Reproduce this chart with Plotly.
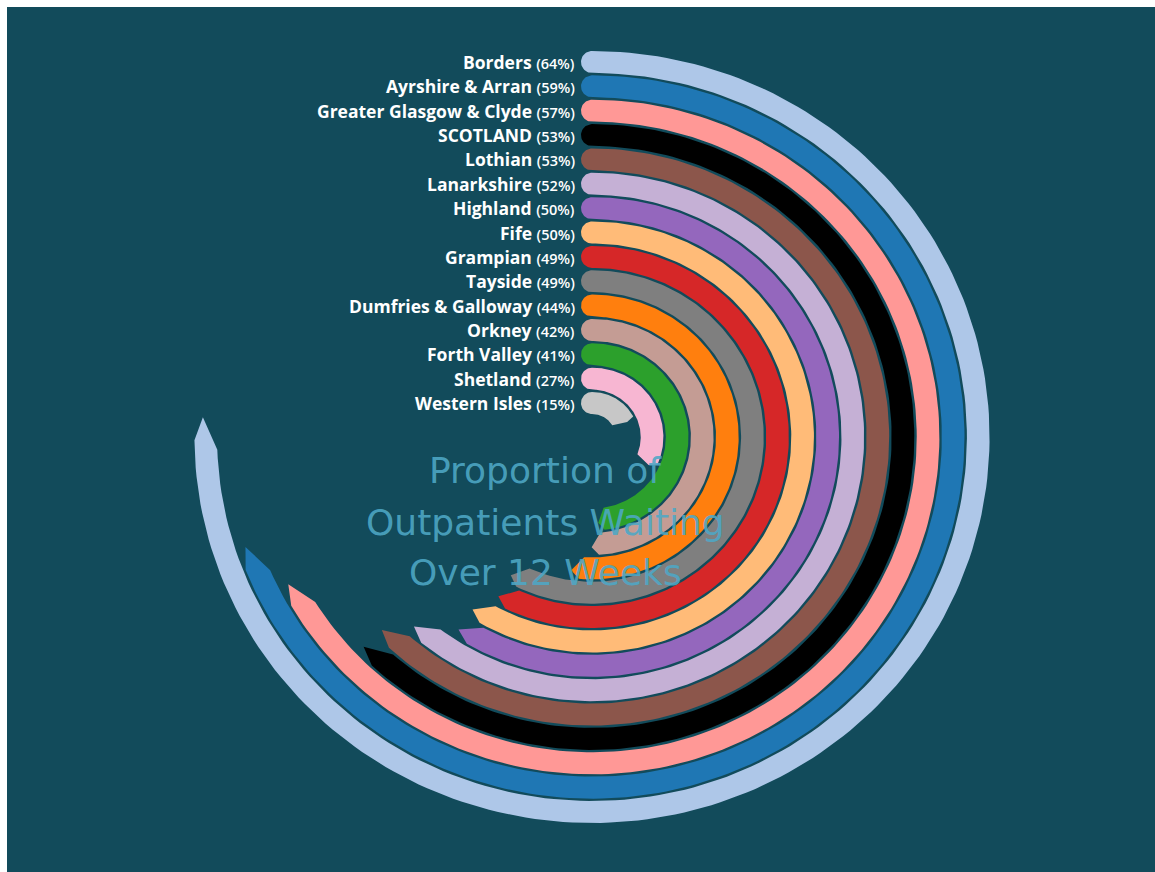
import numpy as np
import plotly.graph_objects as go

# ---------------- data ----------------
regions = ["Borders", "Ayrshire & Arran", "Greater Glasgow & Clyde", "SCOTLAND",
           "Lothian", "Lanarkshire", "Highland", "Fife", "Grampian", "Tayside",
           "Dumfries & Galloway", "Orkney", "Forth Valley", "Shetland", "Western Isles"]
values = [64, 59, 57, 53, 53, 52, 50, 50, 49, 49, 44, 42, 41, 27, 15]
colors = ["#aec7e8", "#1f77b4", "#ff9896", "#000000", "#8c564b", "#c5b0d5",
          "#9467bd", "#ffbb78", "#d62728", "#7f7f7f", "#ff7f0e", "#c49c94",
          "#2ca02c", "#f7b6d2", "#c7c7c7"]
title_lines = ["Proportion of", "Outpatients Waiting", "Over 12 Weeks"]

# ---------------- geometry / style ----------------
BG = "#124b5b"
W_FIG, H_FIG = 1155, 872
ML, MT = 7, 7                # white border at top/left
CX, CY = 592, 437            # centre of the rings in screen pixels
R0 = 375.0                   # radius of outermost ring centre
STEP = 24.36                 # ring spacing
W = 22.0                     # ring thickness
SX = 1.03                    # horizontal stretch (independent axis scales)
FULL_ANGLE = 270.0
MAXV = max(values)


def pt(r, deg):
    t = np.radians(deg)
    return SX * r * np.sin(t), r * np.cos(t)


fig = go.Figure()

for i, (name, v, c) in enumerate(zip(regions, values, colors)):
    r = R0 - STEP * i
    ro, ri = r + W / 2, r - W / 2
    tv = v / MAXV * FULL_ANGLE
    t_out = tv - 0.5
    t_in = tv - 2.0
    t_tip = tv + 3.0
    xs, ys = [], []
    for a in np.linspace(0, t_out, 200):
        x, y = pt(ro, a)
        xs.append(x); ys.append(y)
    x, y = pt(r + 0.15 * W, t_tip)
    xs.append(x); ys.append(y)
    for a in np.linspace(t_in, 0, 200):
        x, y = pt(ri, a)
        xs.append(x); ys.append(y)
    for phi in np.linspace(0, np.pi, 30):
        xs.append(-(W / 2) * np.sin(phi))
        ys.append(r - (W / 2) * np.cos(phi))
    fig.add_trace(go.Scatter(x=xs, y=ys, fill="toself", fillcolor=c,
                             line=dict(width=0, color=c), mode="lines",
                             hoverinfo="text", text=f"{name} ({v}%)",
                             showlegend=False))
    fig.add_annotation(x=577 - CX, y=r, xref="x", yref="y", xanchor="right",
                       yanchor="middle", showarrow=False,
                       text=(f"<b>{name}</b> <span style='font-size:14.5px;"
                             f"font-weight:600'>({v}%)</span>"),
                       font=dict(family="Open Sans", size=17.5, color="white"))

title_y = [470, 522, 572]
for line, ty in zip(title_lines, title_y):
    fig.add_annotation(x=545 - CX, y=CY - ty, xref="x", yref="y", xanchor="center",
                       yanchor="middle", showarrow=False, text=line,
                       font=dict(family="DejaVu Sans", size=36,
                                 color="rgba(78,168,198,0.9)"))

fig.update_layout(
    width=W_FIG, height=H_FIG, autosize=False,
    margin=dict(l=ML, r=0, t=MT, b=0, pad=0),
    paper_bgcolor="white", plot_bgcolor=BG,
    xaxis=dict(range=[ML - CX, W_FIG - CX], visible=False, fixedrange=True),
    yaxis=dict(range=[CY - H_FIG, CY - MT], visible=False, fixedrange=True),
    showlegend=False,
)

fig.write_html("out.html",
               config={"displayModeBar": False},
               post_script="document.body.style.margin='0';"
                           "document.body.style.overflow='hidden';")
